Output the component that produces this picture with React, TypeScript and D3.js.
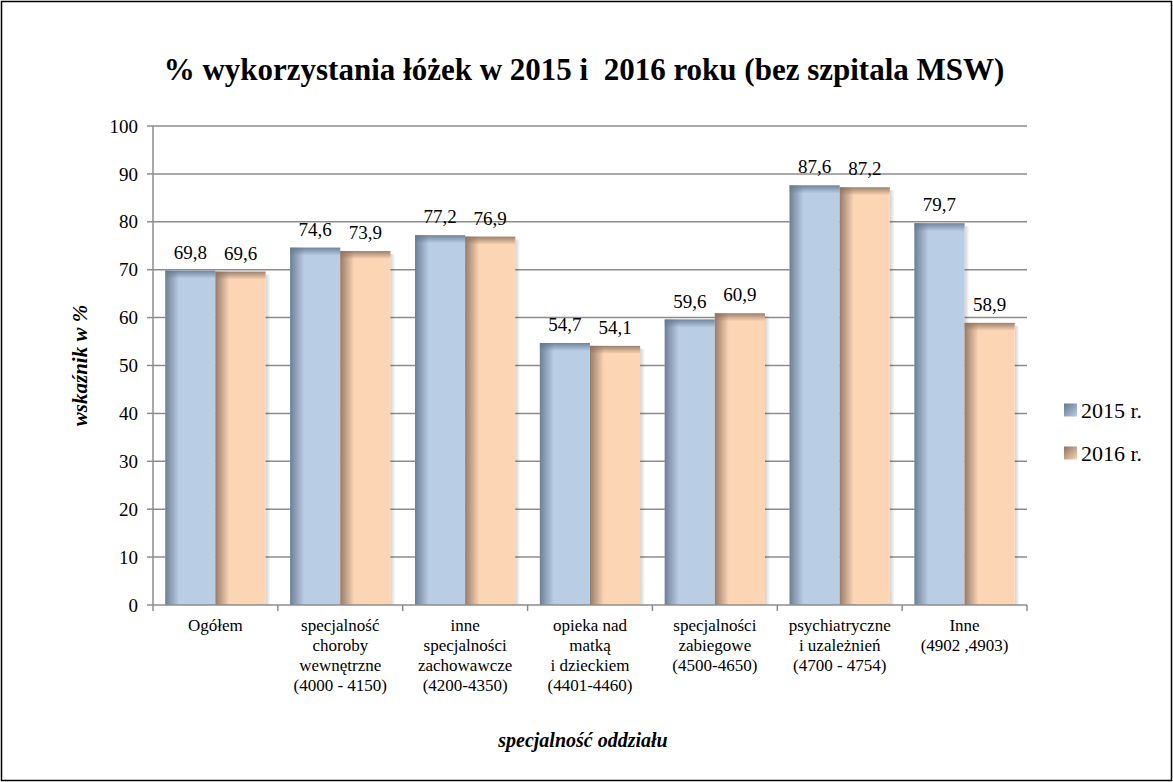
import * as d3 from "d3";

const W = 1173;
const H = 782;
const MARGIN = { top: 126, right: 146, bottom: 177, left: 153 };

const categories = [
  ["Ogółem"],
  ["specjalność", "choroby", "wewnętrzne", "(4000 - 4150)"],
  ["inne", "specjalności", "zachowawcze", "(4200-4350)"],
  ["opieka nad", "matką", "i dzieckiem", "(4401-4460)"],
  ["specjalności", "zabiegowe", "(4500-4650)"],
  ["psychiatryczne", "i uzależnień", "(4700 - 4754)"],
  ["Inne", "(4902 ,4903)"],
];
const values2015 = [69.8, 74.6, 77.2, 54.7, 59.6, 87.6, 79.7];
const values2016 = [69.6, 73.9, 76.9, 54.1, 60.9, 87.2, 58.9];
const seriesNames = ["2015 r.", "2016 r."];
const yTicks = [0, 10, 20, 30, 40, 50, 60, 70, 80, 90, 100];

const series = [
  { name: seriesNames[0], values: values2015, base: "#b9cde5", dark: "#64778d" },
  { name: seriesNames[1], values: values2016, base: "#fcd5b5", dark: "#8c7160" },
];

const FONT = "Liberation Serif, DejaVu Serif, serif";

export default function App() {
  const boundsW = W - MARGIN.left - MARGIN.right;
  const boundsH = H - MARGIN.top - MARGIN.bottom;

  const x = d3
    .scaleBand<number>()
    .domain(categories.map((_, i) => i))
    .range([0, boundsW])
    .paddingInner(0)
    .paddingOuter(0);
  const inner = d3
    .scaleBand<number>()
    .domain([0, 1])
    .range([0, x.bandwidth()])
    .paddingOuter(0.245)
    .paddingInner(0);
  const y = d3.scaleLinear().domain([0, 100]).range([boundsH, 0]);
  const fmt = (v: number) => v.toFixed(1).replace(".", ",");

  return (
    <svg
      width={W}
      height={H}
      fontFamily={FONT}
      style={{ position: "absolute", left: 0, top: 0 }}
    >
      <defs>
        {series.map((s, k) => (
          <g key={k}>
            <linearGradient id={`left${k}`} x1="0" x2="1" y1="0" y2="0">
              <stop offset="0" stopColor={s.dark} stopOpacity={1} />
              <stop offset="1" stopColor={s.dark} stopOpacity={0} />
            </linearGradient>
            <linearGradient id={`top${k}`} x1="0" x2="0" y1="0" y2="1">
              <stop offset="0" stopColor={s.dark} stopOpacity={1} />
              <stop offset="1" stopColor={s.dark} stopOpacity={0} />
            </linearGradient>
            <linearGradient id={`leg${k}`} x1="0" x2="1" y1="0" y2="1">
              <stop offset="0" stopColor={s.dark} />
              <stop offset="1" stopColor={s.base} />
            </linearGradient>
          </g>
        ))}
        <linearGradient id="shadow" x1="0" x2="1" y1="0" y2="0">
          <stop offset="0" stopColor="#000" stopOpacity={0.18} />
          <stop offset="1" stopColor="#000" stopOpacity={0} />
        </linearGradient>
      </defs>

      <rect x={1.5} y={1.5} width={W - 3} height={H - 3} fill="white" stroke="#000" strokeWidth={1.5} />

      <text
        x={584}
        y={80}
        textAnchor="middle"
        fontSize={31}
        fontWeight="bold"
        style={{ whiteSpace: "pre" }}
      >
        {"% wykorzystania łóżek w 2015 i  2016 roku (bez szpitala MSW)"}
      </text>

      <g transform={`translate(${MARGIN.left}, ${MARGIN.top})`}>
        {yTicks.map((t) => (
          <g key={t} transform={`translate(0, ${y(t)})`}>
            {t > 0 && <line x1={0} x2={boundsW} stroke="#8c8c8c" strokeWidth={1.5} />}
            <line x1={-6} x2={0} stroke="#8c8c8c" strokeWidth={1.5} />
            <text x={-15} dy="0.35em" textAnchor="end" fontSize={19}>
              {t}
            </text>
          </g>
        ))}

        {categories.map((lines, i) => {
          const x0 = x(i) ?? 0;
          return (
            <g key={i}>
              {series.map((s, k) => {
                const bx = x0 + (inner(k) ?? 0);
                const bw = inner.bandwidth();
                const by = y(s.values[i]);
                const bh = boundsH - by;
                return (
                  <g key={k}>
                    <rect x={bx + bw} y={by + 3} width={5} height={bh - 3} fill="url(#shadow)" />
                    <rect x={bx} y={by} width={bw} height={bh} fill={s.base} />
                    <rect x={bx} y={by} width={14} height={bh} fill={`url(#left${k})`} opacity={0.9} />
                    <rect x={bx} y={by} width={bw} height={8} fill={`url(#top${k})`} opacity={0.85} />
                    <text
                      x={bx + bw / 2}
                      y={by - 12}
                      textAnchor="middle"
                      fontSize={19}
                    >
                      {fmt(s.values[i])}
                    </text>
                  </g>
                );
              })}
              <line
                x1={x0 + x.bandwidth()}
                x2={x0 + x.bandwidth()}
                y1={boundsH}
                y2={boundsH + 6}
                stroke="#8c8c8c"
                strokeWidth={1.5}
              />
              {lines.map((ln, j) => (
                <text
                  key={j}
                  x={x0 + x.bandwidth() / 2}
                  y={boundsH + 26 + j * 20}
                  textAnchor="middle"
                  fontSize={17}
                >
                  {ln}
                </text>
              ))}
            </g>
          );
        })}

        <line x1={0} x2={boundsW} y1={boundsH} y2={boundsH} stroke="#8c8c8c" strokeWidth={1.5} />
        <line x1={0} x2={0} y1={0} y2={boundsH + 6} stroke="#8c8c8c" strokeWidth={1.5} />
      </g>

      <text
        transform={`translate(87, ${MARGIN.top + boundsH / 2}) rotate(-90)`}
        textAnchor="middle"
        fontSize={21}
        fontWeight="bold"
        fontStyle="italic"
      >
        wskaźnik w %
      </text>

      <text x={583} y={747} textAnchor="middle" fontSize={20} fontWeight="bold" fontStyle="italic">
        specjalność oddziału
      </text>

      {series.map((s, k) => (
        <g key={k} transform={`translate(1064, ${410 + k * 43})`}>
          <rect x={0} y={-6.5} width={13} height={13} fill={`url(#leg${k})`} />
          <text x={17} dy="0.35em" fontSize={22}>
            {s.name}
          </text>
        </g>
      ))}
    </svg>
  );
}
